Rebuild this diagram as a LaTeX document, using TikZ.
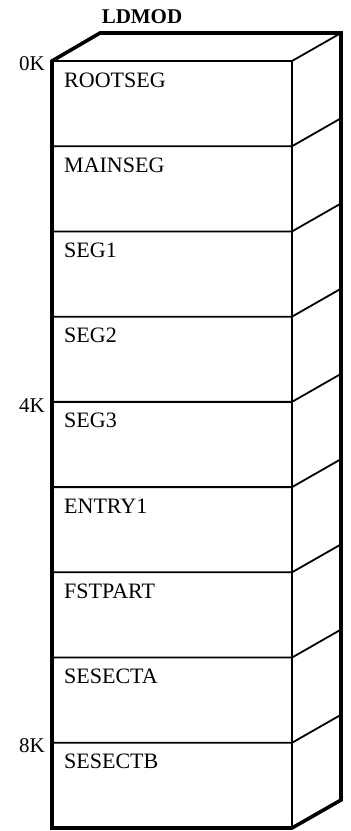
\documentclass[tikz,border=0pt]{standalone}
\usepackage{fontspec}
\setmainfont{Liberation Serif}
\usetikzlibrary{positioning}

\tikzset{
  outline/.style={line width=3.6pt, line join=miter},
  divider/.style={line width=1.8pt},
  seglabel/.style={anchor=base west, inner sep=0pt, font=\fontsize{22}{26}\selectfont},
  addrlabel/.style={anchor=east, inner sep=0pt}
}

\begin{document}
\begin{tikzpicture}[x=1pt, y=-1pt, font=\fontsize{21}{25}\selectfont]
  \useasboundingbox (0,0) rectangle (351,831);

  % corners of the stack, depth offset (49,-28)
  \coordinate (ftl) at (52,61);
  \coordinate (ftr) at (292,61);
  \coordinate (fbl) at (52,828);
  \coordinate (fbr) at (292,828);
  \coordinate (btl) at (100,33);
  \coordinate (btr) at (341,33);
  \coordinate (bbr) at (341,800);

  \node[font=\fontsize{21}{25}\selectfont\bfseries, anchor=base] (title) at (142,23) {LDMOD};

  % segment boundaries and names
  \foreach \i/\lbl in {0/ROOTSEG,1/MAINSEG,2/SEG1,3/SEG2,4/SEG3,5/ENTRY1,6/FSTPART,7/SESECTA,8/SESECTB}{
    \pgfmathsetmacro\yy{61+\i*85.22}
    \draw[divider] (52,\yy) -- (292,\yy) -- ++(49,-28);
    \node[seglabel] (seg\i) at (64,\yy+26) {\lbl};
  }

  \draw[divider] (ftr) -- (fbr);
  \draw[outline] (ftl) -- (btl) -- (btr) -- (bbr) -- (fbr) -- (fbl) -- cycle;

  % addresses
  \node[addrlabel] (k0) at (45,64) {0K};
  \node[addrlabel] (k4) at (45,406) {4K};
  \node[addrlabel] (k8) at (45,746) {8K};
\end{tikzpicture}
\end{document}
